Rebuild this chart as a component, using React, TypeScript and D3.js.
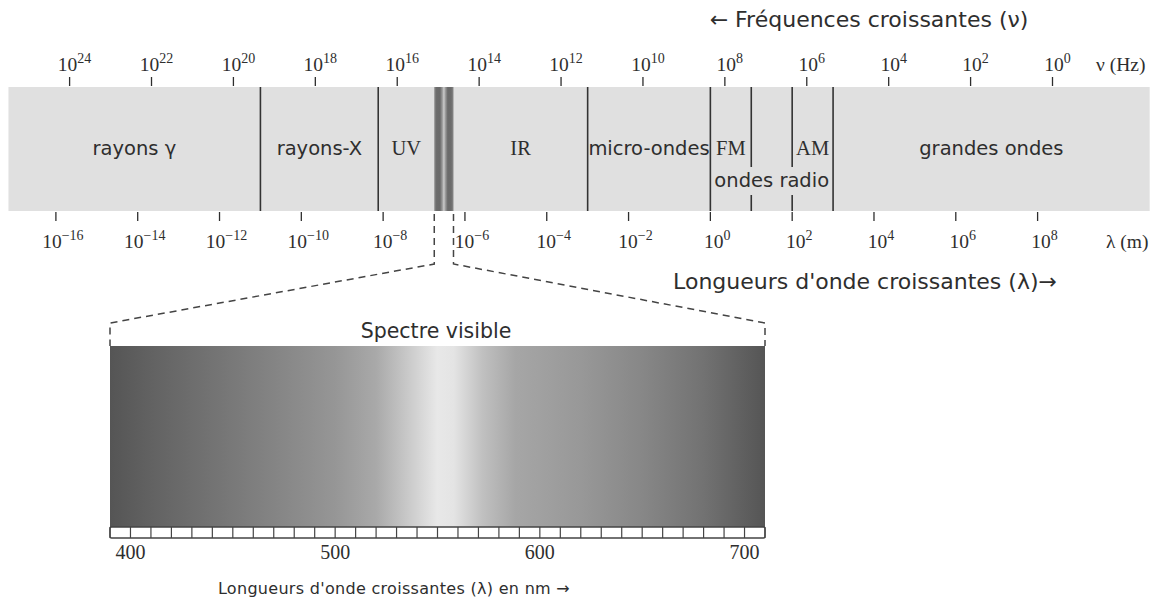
import React from "react";
import * as d3 from "d3";

// ---- Data ----
const freqTickExps = [24, 22, 20, 18, 16, 14, 12, 10, 8, 6, 4, 2, 0];
const wlTickExps = [-16, -14, -12, -10, -8, -6, -4, -2, 0, 2, 4, 6, 8];

// band boundaries in log10(lambda / m)
const bandEdges = { left: -17.16, right: 10.74 };
const fullDividers = [-11, -8.12, -3, 0, 3];
const brokenDividers = [1, 2];
const visibleBand = [-6.75, -6.28];

const bandLabels = [
  { name: "rayons γ", from: -17.16, to: -11, serif: false, row: 0 },
  { name: "rayons-X", from: -11, to: -8.12, serif: false, row: 0 },
  { name: "UV", from: -8.12, to: -6.75, serif: true, row: 0 },
  { name: "IR", from: -6.28, to: -3, serif: true, row: 0 },
  { name: "micro-ondes", from: -3, to: 0, serif: false, row: 0 },
  { name: "FM", from: 0, to: 1, serif: true, row: 0 },
  { name: "AM", from: 2, to: 3, serif: true, row: 0 },
  { name: "grandes ondes", from: 3, to: 10.74, serif: false, row: 0 },
  { name: "ondes radio", from: 0, to: 3, serif: false, row: 1 },
];

// visible spectrum (nm)
const visDomain = [390, 710];
const visLabels = [400, 500, 600, 700];
const visGrayStops = [
  { nm: 390, g: 0x55 },
  { nm: 410, g: 0x62 },
  { nm: 440, g: 0x73 },
  { nm: 470, g: 0x84 },
  { nm: 500, g: 0x96 },
  { nm: 520, g: 0xa9 },
  { nm: 535, g: 0xc8 },
  { nm: 550, g: 0xe8 },
  { nm: 558, g: 0xe4 },
  { nm: 572, g: 0xc0 },
  { nm: 588, g: 0xa6 },
  { nm: 620, g: 0x98 },
  { nm: 650, g: 0x87 },
  { nm: 680, g: 0x72 },
  { nm: 710, g: 0x55 },
];
const bandGrayStops = [
  { f: 0.0, g: 0x8a },
  { f: 0.12, g: 0x6c },
  { f: 0.3, g: 0x6a },
  { f: 0.42, g: 0x9c },
  { f: 0.5, g: 0xcc },
  { f: 0.58, g: 0x9c },
  { f: 0.7, g: 0x6a },
  { f: 0.88, g: 0x6c },
  { f: 1.0, g: 0x8a },
];

const SANS = "'DejaVu Sans', sans-serif";
const SERIF = "'Liberation Serif', 'Times New Roman', serif";
const INK = "#2e2e2e";

const gray = (g: number) => d3.rgb(g, g, g).formatHex();

export default function App() {
  const W = 1164;
  const H = 603;
  const fx = d3.scaleLinear().domain([24, 0]).range([69.6, 1052.5]);
  const wx = d3.scaleLinear().domain([-16, 8]).range([55.9, 1037.6]);
  const vx = d3.scaleLinear().domain(visDomain).range([110, 765]);

  const bandTop = 87;
  const bandBot = 211;
  const specTop = 346;
  const specBot = 527;
  const rulerBot = 538;

  const visTicks = d3.range(visDomain[0], visDomain[1] + 1, 10);

  const vL = wx(visibleBand[0]);
  const vR = wx(visibleBand[1]);
  const turnY = 264;
  const cornerY = 323;

  return (
    <svg width={W} height={H} viewBox={`0 0 ${W} ${H}`} style={{ position: "absolute", left: 0, top: 0, background: "#fff" }}>
      <defs>
        <linearGradient id="visGrad" x1="0" x2="1" y1="0" y2="0">
          {visGrayStops.map((s, i) => (
            <stop key={i} offset={(s.nm - visDomain[0]) / (visDomain[1] - visDomain[0])} stopColor={gray(s.g)} />
          ))}
        </linearGradient>
        <linearGradient id="bandGrad" x1="0" x2="1" y1="0" y2="0">
          {bandGrayStops.map((s, i) => (
            <stop key={i} offset={s.f} stopColor={gray(s.g)} />
          ))}
        </linearGradient>
      </defs>

      {/* Titles */}
      <text x={869} y={27} textAnchor="middle" fontFamily={SANS} fontSize={22} fill={INK}>
        ← Fréquences croissantes (ν)
      </text>

      {/* Top frequency axis */}
      {freqTickExps.map((e) => (
        <g key={"f" + e}>
          <line x1={fx(e)} x2={fx(e)} y1={77} y2={86} stroke={INK} strokeWidth={1.3} />
          <text x={fx(e) + 5} y={71} textAnchor="middle" fontFamily={SERIF} fontSize={19.5} fill={INK}>
            10
            <tspan dy={-8} fontSize={14}>{e < 0 ? "−" + -e : String(e)}</tspan>
          </text>
        </g>
      ))}
      <text x={1096} y={71} fontFamily={SERIF} fontSize={19.5} fill={INK}>ν (Hz)</text>

      {/* Band */}
      <rect x={wx(bandEdges.left)} y={bandTop} width={wx(bandEdges.right) - wx(bandEdges.left)} height={bandBot - bandTop} fill="#e0e0e0" />
      <rect x={vL} y={bandTop} width={vR - vL} height={bandBot - bandTop} fill="url(#bandGrad)" />
      {fullDividers.map((e) => (
        <line key={"d" + e} x1={wx(e)} x2={wx(e)} y1={bandTop} y2={bandBot} stroke="#333" strokeWidth={1.6} />
      ))}
      {brokenDividers.map((e) => (
        <g key={"b" + e}>
          <line x1={wx(e)} x2={wx(e)} y1={bandTop} y2={167} stroke="#333" strokeWidth={1.6} />
          <line x1={wx(e)} x2={wx(e)} y1={195} y2={bandBot} stroke="#333" strokeWidth={1.6} />
        </g>
      ))}
      {bandLabels.map((b) => (
        <text
          key={b.name}
          x={wx((b.from + b.to) / 2)}
          y={b.row === 0 ? 155 : 187}
          textAnchor="middle"
          fontFamily={b.serif ? SERIF : SANS}
          fontSize={b.serif ? 20.5 : 19.5}
          fill={INK}
        >
          {b.name}
        </text>
      ))}

      {/* Bottom wavelength axis */}
      {wlTickExps.map((e) => (
        <g key={"w" + e}>
          <line x1={wx(e)} x2={wx(e)} y1={212} y2={221} stroke={INK} strokeWidth={1.3} />
          <text x={wx(e) + 7} y={248} textAnchor="middle" fontFamily={SERIF} fontSize={19.5} fill={INK}>
            10
            <tspan dy={-8} fontSize={14}>{e < 0 ? "−" + -e : String(e)}</tspan>
          </text>
        </g>
      ))}
      <text x={1106} y={248} fontFamily={SERIF} fontSize={19.5} fill={INK}>λ (m)</text>
      <text x={865} y={289} textAnchor="middle" fontFamily={SANS} fontSize={22} fill={INK}>
        Longueurs d'onde croissantes (λ)→
      </text>

      {/* Dashed zoom lines */}
      <path
        d={`M${vL},${bandBot + 3} L${vL},${turnY} L${vx(visDomain[0])},${cornerY} L${vx(visDomain[0])},${specTop}`}
        fill="none"
        stroke="#444"
        strokeWidth={1.5}
        strokeDasharray="7,5"
      />
      <path
        d={`M${vR},${bandBot + 3} L${vR},${turnY} L${vx(visDomain[1])},${cornerY} L${vx(visDomain[1])},${specTop}`}
        fill="none"
        stroke="#444"
        strokeWidth={1.5}
        strokeDasharray="7,5"
      />

      {/* Visible spectrum */}
      <text x={436} y={338} textAnchor="middle" fontFamily={SANS} fontSize={20.5} fill={INK}>Spectre visible</text>
      <rect x={vx(visDomain[0])} y={specTop} width={vx(visDomain[1]) - vx(visDomain[0])} height={specBot - specTop} fill="url(#visGrad)" />
      <rect x={vx(visDomain[0])} y={specBot} width={vx(visDomain[1]) - vx(visDomain[0])} height={rulerBot - specBot} fill="#fff" stroke="#444" strokeWidth={1.4} rx={1.5} />
      {visTicks.map((t) => (
        <line key={"v" + t} x1={vx(t)} x2={vx(t)} y1={specBot} y2={rulerBot} stroke="#444" strokeWidth={1.2} />
      ))}
      {visLabels.map((t) => (
        <text key={"vl" + t} x={vx(t)} y={559} textAnchor="middle" fontFamily={SERIF} fontSize={20} fill={INK}>
          {t}
        </text>
      ))}
      <text x={394} y={594} textAnchor="middle" fontFamily={SANS} fontSize={16} letterSpacing={0.3} fill={INK}>
        Longueurs d'onde croissantes (λ) en nm →
      </text>
    </svg>
  );
}
